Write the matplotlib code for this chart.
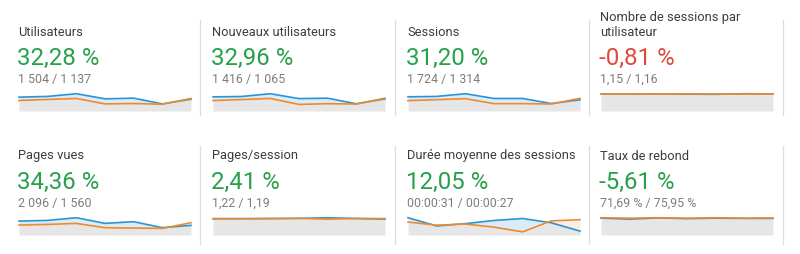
import numpy as np
import matplotlib
matplotlib.use('Agg')
import matplotlib.pyplot as plt

plt.rcParams['font.family'] = ['Roboto', 'DejaVu Sans']

# titres, variations et valeurs (période actuelle / période précédente)
titles = ['Utilisateurs', 'Nouveaux utilisateurs', 'Sessions',
          'Nombre de sessions par\nutilisateur',
          'Pages vues', 'Pages/session', 'Durée moyenne des sessions', 'Taux de rebond']
changes = ['32,28 %', '32,96 %', '31,20 %', '-0,81 %',
           '34,36 %', '2,41 %', '12,05 %', '-5,61 %']
positive = [True, True, True, False, True, True, True, True]
totals = ['1 504 / 1 137', '1 416 / 1 065', '1 724 / 1 314', '1,15 / 1,16',
          '2 096 / 1 560', '1,22 / 1,19', '00:00:31 / 00:00:27', '71,69 % / 75,95 %']

users_cur = [232, 244, 289, 204, 215, 119, 198]
users_prev = [176, 193, 210, 119, 125, 113, 210]
new_users_cur = [221, 227, 270, 194, 200, 113, 189]
new_users_prev = [163, 179, 196, 103, 114, 109, 201]
sessions_cur = [273, 280, 332, 241, 241, 143, 215]
sessions_prev = [199, 218, 237, 141, 141, 135, 244]
spu_cur = [1.15, 1.15, 1.15, 1.14, 1.13, 1.17, 1.16]
spu_prev = [1.16, 1.16, 1.15, 1.16, 1.15, 1.15, 1.16]
pageviews_cur = [333, 349, 413, 278, 318, 175, 230]
pageviews_prev = [238, 253, 277, 174, 166, 158, 293]
pps_cur = [1.20, 1.20, 1.21, 1.22, 1.27, 1.21, 1.17]
pps_prev = [1.20, 1.20, 1.21, 1.23, 1.16, 1.22, 1.21]
duration_cur = [44, 23, 29, 37, 42, 31, 10]
duration_prev = [33, 25, 28, 20, 8, 36, 39]
bounce_cur = [74, 70, 75, 72, 74, 73, 73]
bounce_prev = [76, 74, 76, 74, 76, 74, 75]

series = [(users_cur, users_prev), (new_users_cur, new_users_prev),
          (sessions_cur, sessions_prev), (spu_cur, spu_prev),
          (pageviews_cur, pageviews_prev), (pps_cur, pps_prev),
          (duration_cur, duration_prev), (bounce_cur, bounce_prev)]

W, H = 800, 254
BLUE = '#2b94d4'
ORANGE = '#ee8a2e'
GREEN = '#27a04b'
RED = '#de4a3d'

fig = plt.figure(figsize=(W / 100, H / 100), dpi=100)
fig.patch.set_facecolor('white')
bg = fig.add_axes([0, 0, 1, 1])
bg.set_xlim(0, W)
bg.set_ylim(H, 0)
bg.axis('off')

lefts = [18, 212, 407, 600]
seps = [200, 394.5, 589, 783]
row_y = [0, 124]

for i in range(8):
    r, c = divmod(i, 4)
    x0 = lefts[c]
    dy = row_y[r]

    # séparateur vertical
    bg.plot([seps[c], seps[c]], [20 + dy + r * 2, 115 + dy + r * 5], color='#dedede', lw=0.9)

    lines = titles[i].split('\n')
    for k, line in enumerate(reversed(lines)):
        bg.text(x0, 35.5 + dy - k * 14.5, line, fontsize=9.3, color='#3d3d3d', va='baseline', ha='left')
    bg.text(x0 - 1, 65 + dy, changes[i], fontsize=17.3, color=GREEN if positive[i] else RED,
            va='baseline', ha='left')
    bg.text(x0, 83 + dy, totals[i], fontsize=8.9, color='#7d7d7d', va='baseline', ha='left')

    # sparkline
    top, bottom = 92 + dy, 111 + dy
    ax = fig.add_axes([(x0 + 1) / W, 1 - bottom / H, 172 / W, (bottom - top) / H])
    cur = np.array(series[i][0], dtype=float)
    prev = np.array(series[i][1], dtype=float)
    t = np.arange(len(cur))
    low = np.minimum(cur, prev)
    ax.fill_between(t, low, cur, color='#d9ecf8', lw=0, interpolate=True)
    ax.fill_between(t, low, prev, color='#fbefe4', lw=0, interpolate=True)
    ax.fill_between(t, 0, low, color='#e6e6e6', lw=0)
    ax.plot(t, cur, color=BLUE, lw=1.2, clip_on=False)
    ax.plot(t, prev, color=ORANGE, lw=1.2, clip_on=False)
    ax.set_xlim(0, len(cur) - 1)
    ax.set_ylim(0, max(cur.max(), prev.max()) * 1.1)
    ax.axis('off')

fig.savefig('out.png', dpi=100, facecolor='white')
